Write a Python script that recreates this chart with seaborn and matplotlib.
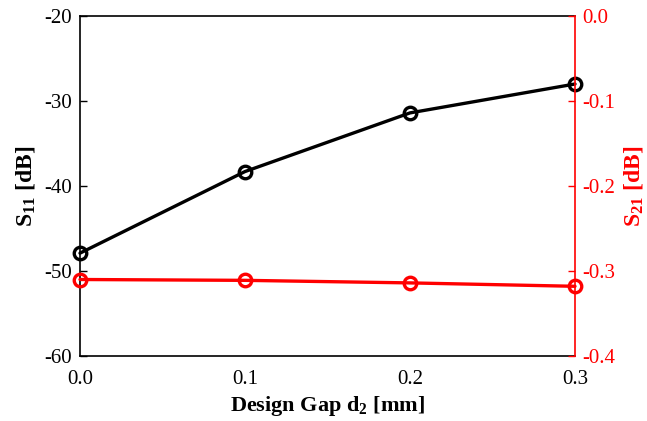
import matplotlib
matplotlib.use("Agg")
import matplotlib.pyplot as plt
import seaborn as sns
import pandas as pd

gap_mm = [0.0, 0.1, 0.2, 0.3]
s11_db = [-47.9, -38.3, -31.4, -28.0]
s21_db = [-0.310, -0.311, -0.314, -0.318]
x_ticks = [0.0, 0.1, 0.2, 0.3]
left_ticks = [-60, -50, -40, -30, -20]
right_ticks = [-0.4, -0.3, -0.2, -0.1, 0.0]

sns.set_theme(style="white")
plt.rcParams["font.family"] = ["Liberation Serif", "DejaVu Serif"]
plt.rcParams["mathtext.fontset"] = "custom"
plt.rcParams["mathtext.rm"] = "Liberation Serif"
plt.rcParams["mathtext.bf"] = "Liberation Serif:bold"
plt.rcParams["mathtext.it"] = "Liberation Serif:italic"
plt.rcParams["axes.labelcolor"] = "black"
plt.rcParams["text.color"] = "black"

df = pd.DataFrame({"gap": gap_mm, "s11": s11_db, "s21": s21_db})

fig = plt.figure(figsize=(6.47, 4.21), dpi=100)
ax = fig.add_axes([80 / 647, 1 - 356 / 421, (575 - 80) / 647, (356 - 16) / 421])
ax2 = ax.twinx()

sns.lineplot(data=df, x="gap", y="s11", ax=ax, color="black", linewidth=2.4,
             marker="o", markersize=9, markerfacecolor="none",
             markeredgecolor="black", markeredgewidth=2.4, clip_on=False)
sns.lineplot(data=df, x="gap", y="s21", ax=ax2, color="red", linewidth=2.4,
             marker="o", markersize=9, markerfacecolor="none",
             markeredgecolor="red", markeredgewidth=2.4, clip_on=False)

ax.set_xlim(0, 0.3)
ax.set_ylim(-60, -20)
ax2.set_ylim(-0.4, 0.0)
ax.set_xticks(x_ticks)
ax.set_xticklabels([f"{v:.1f}" for v in x_ticks])
ax.set_yticks(left_ticks)
ax.set_yticklabels([str(v) for v in left_ticks])
ax2.set_yticks(right_ticks)
ax2.set_yticklabels([f"{v:.1f}" for v in right_ticks])

ax.tick_params(axis="both", direction="in", length=5, width=1, labelsize=15,
               colors="black")
ax.tick_params(axis="y", pad=6)
ax.tick_params(axis="x", pad=10)
ax2.tick_params(axis="y", direction="in", length=5, width=1, labelsize=15,
                colors="red", pad=5)

for sp in ax.spines.values():
    sp.set_color("black")
    sp.set_linewidth(1.2)
for name, sp in ax2.spines.items():
    sp.set_visible(name == "right")
ax2.spines["right"].set_color("red")
ax2.spines["right"].set_linewidth(1.2)
ax.spines["right"].set_visible(False)

ax.set_xlabel(r"Design Gap d$_\mathbf{2}$ [mm]", fontsize=16, fontweight="bold",
              color="black", labelpad=4)
ax.set_ylabel(r"$\mathbf{S_{11}}$ [dB]", fontsize=17, fontweight="bold",
              color="black", labelpad=5)
ax2.set_ylabel(r"$\mathbf{S_{21}}$ [dB]", fontsize=17, fontweight="bold",
               color="red", labelpad=5)

fig.savefig("out.png", dpi=100)
